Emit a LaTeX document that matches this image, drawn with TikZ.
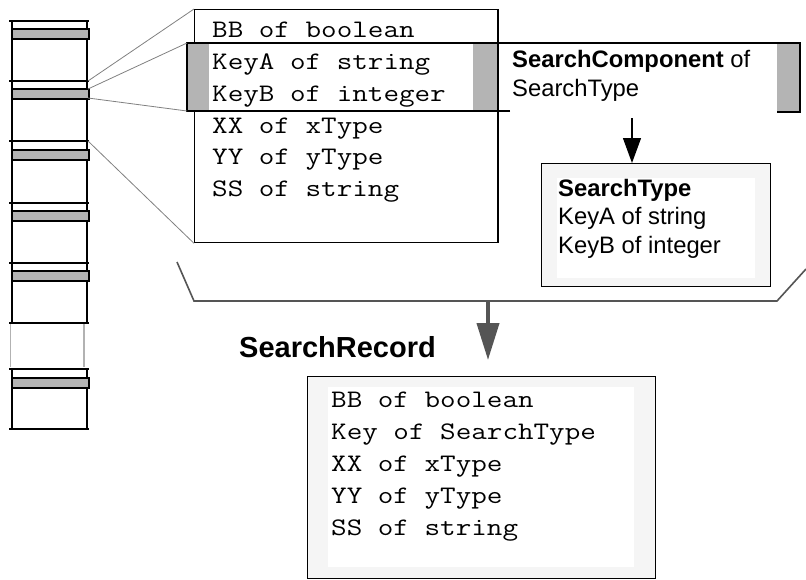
\documentclass[tikz,border=0pt]{standalone}
\usepackage{fontspec}
\setmainfont{Liberation Sans}
\newfontfamily\codefont[FakeStretch=1.2]{Latin Modern Mono}
\usetikzlibrary{arrows.meta}
\definecolor{barg}{RGB}{180,180,180}
\definecolor{pale}{RGB}{245,245,245}
\definecolor{darkg}{RGB}{85,85,85}
\begin{document}
\begin{tikzpicture}[x=1pt,y=-1pt,
  code/.style={font=\codefont\fontsize{25.2}{32}\selectfont, inner sep=0pt, anchor=base west},
  sans/.style={font=\fontsize{23.8}{28}\selectfont, inner sep=0pt, anchor=base west},
  box/.style={draw=black, line width=1.3pt, inner sep=0pt, anchor=north west},
  bar/.style={draw=black, fill=barg, line width=1.2pt},
  sep/.style={draw=black, line width=1.2pt},
  zoomline/.style={draw=gray, line width=0.8pt}]
\useasboundingbox (0,0) rectangle (806,579);

% ---- left column ----
\foreach \y in {21,81,141,203,263,323,369,429} \draw[sep] (9,\y) -- (89,\y);
\draw[sep] (12,21) -- (12,323) (87,21) -- (87,323) (12,369) -- (12,429) (87,369) -- (87,429);
\draw[draw=black!30, line width=1.1pt] (10.7,324) -- (10.7,367) (84,324) -- (84,367);
\foreach \y in {29,89,150,211,271,378} \draw[bar] (12,\y) rectangle (89,\y+10);
\coordinate (c1) at (88,81);
\coordinate (c2) at (88,89);
\coordinate (c3) at (88,98);
\coordinate (c4) at (88,141);

% ---- main record box ----
\node[box, minimum width=303pt, minimum height=233pt] (mbox) at (194,9) {};
\fill[barg] (187,43) rectangle (209,111);
\fill[barg] (473,43) rectangle (497,111);
\fill[barg] (777,43) rectangle (800,112);
\draw[line width=1.3pt] (mbox.north east) -- (mbox.south east);
\draw[line width=1.3pt] (510,111) -- (187,111) -- (187,43) -- (800,43) -- (800,112) -- (777,112);
\coordinate (bandtl) at (187,43);
\coordinate (bandbl) at (187,111);

\draw[zoomline] (c1) -- (mbox.north west);
\draw[zoomline] (c2) -- (bandtl);
\draw[zoomline] (c3) -- (bandbl);
\draw[zoomline] (c4) -- (mbox.south west);

\node[code] (m1) at (212,37) {BB of boolean};
\node[code] (m2) at (212,69) {KeyA of string};
\node[code] (m3) at (212,101) {KeyB of integer};
\node[code] (m4) at (212,133) {XX of xType};
\node[code] (m5) at (212,164) {YY of yType};
\node[code] (m6) at (212,196) {SS of string};

% ---- search component ----
\node[sans] (sc1) at (512,67) {\textbf{SearchComponent} of};
\node[sans] (sc2) at (512,96) {SearchType};

% ---- search type box ----
\node[box, fill=pale, minimum width=229pt, minimum height=123pt] (stype) at (541,163) {};
\fill[white] (557,178) rectangle (755,278);
\node[sans] (st1) at (558,196) {\textbf{SearchType}};
\node[sans] (st2) at (558,224) {KeyA of string};
\node[sans] (st3) at (558,253) {KeyB of integer};
\coordinate (a1) at (632,118);
\draw[line width=1.2pt, -{Triangle[length=25pt,width=18pt]}] (a1) -- (a1 |- stype.north);

% ---- bracket ----
\coordinate (k1) at (177,262);
\coordinate (k2) at (194,301);
\coordinate (k3) at (777,301);
\coordinate (k4) at (806,269);
\draw[darkg, line width=1.6pt] (k1) -- (k2) -- (k3) -- (k4);
\coordinate (b1) at (488,301);
\coordinate (b2) at (488,360);
\draw[darkg, line width=4pt, -{Triangle[length=37pt,width=22pt]}] (b1) -- (b2);

% ---- search record ----
\node[font=\bfseries\fontsize{29}{34}\selectfont, inner sep=0pt, anchor=base west] (srl) at (239,357) {SearchRecord};
\node[box, fill=pale, minimum width=348pt, minimum height=202pt] (srec) at (307,376) {};
\fill[white] (328,387) rectangle (634,567);
\node[code] (r1) at (331,407) {BB of boolean};
\node[code] (r2) at (331,439) {Key of SearchType};
\node[code] (r3) at (331,471) {XX of xType};
\node[code] (r4) at (331,503) {YY of yType};
\node[code] (r5) at (331,535) {SS of string};
\end{tikzpicture}
\end{document}
